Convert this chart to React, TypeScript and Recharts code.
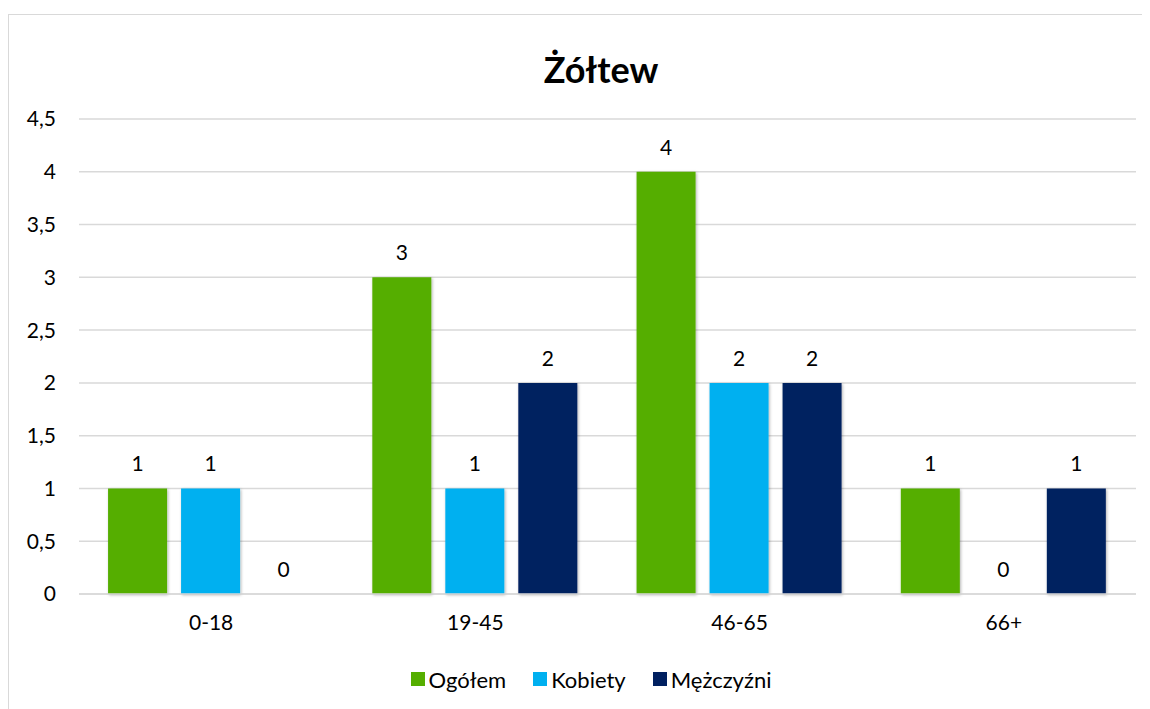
import React from 'react';
import { BarChart, Bar, XAxis, YAxis, CartesianGrid, Legend, LabelList } from 'recharts';

const categories = ['0-18', '19-45', '46-65', '66+'];
const ogolem = [1, 3, 4, 1];
const kobiety = [1, 1, 2, 0];
const mezczyzni = [0, 2, 2, 1];
const yTicks = [0, 0.5, 1, 1.5, 2, 2.5, 3, 3.5, 4, 4.5];
const seriesNames = ['Ogółem', 'Kobiety', 'Mężczyźni'];
const seriesColors = ['#55ae00', '#00b0f0', '#002060'];

const data = categories.map((c, i) => ({
  name: c,
  [seriesNames[0]]: ogolem[i],
  [seriesNames[1]]: kobiety[i],
  [seriesNames[2]]: mezczyzni[i],
}));

const FONT = 'Lato, "Open Sans", sans-serif';
const fmt = (v: number) => String(v).replace('.', ',');

const LegendContent = () => (
  <div style={{ display: 'flex', justifyContent: 'center', alignItems: 'center', gap: 27, fontFamily: FONT, fontSize: 22, color: '#000', paddingLeft: 24, height: 26 }}>
    {seriesNames.map((n, i) => (
      <div key={n} style={{ display: 'flex', alignItems: 'center' }}>
        <span style={{ display: 'inline-block', width: 14, height: 14, background: seriesColors[i], marginRight: 4 }} />
        <span>{n}</span>
      </div>
    ))}
  </div>
);

const ValueLabel = (props: any) => {
  const { x, y, width, value } = props;
  if (value === undefined || value === null) return null;
  return (
    <text x={Number(x) + Number(width) / 2} y={Number(y) - 17} textAnchor="middle" fontFamily={FONT} fontSize={21} fill="#000">
      {fmt(Number(value))}
    </text>
  );
};

export default function App() {
  return (
    <div style={{ position: 'relative', marginTop: 6, width: 1142, height: 695, borderTop: '1px solid #d9d9d9', borderLeft: '1px solid #d9d9d9', boxSizing: 'border-box' }}>
      <div style={{ position: 'absolute', left: 592, top: 54, transform: 'translate(-50%, -50%)', fontFamily: FONT, fontWeight: 700, fontSize: 36, color: '#000', whiteSpace: 'nowrap' }}>
        Żółtew
      </div>
      <div style={{ position: 'absolute', left: -1, top: -1 }}>
        <BarChart
          width={1142}
          height={695}
          data={data}
          margin={{ top: 105, right: 14, left: 0, bottom: 59 }}
          barCategoryGap="11%"
          barGap={14}
        >
          <defs>
            <filter id="barShadow" x="-20%" y="-20%" width="140%" height="140%">
              <feDropShadow dx="1" dy="1" stdDeviation="1.5" floodColor="#000" floodOpacity="0.3" />
            </filter>
          </defs>
          <CartesianGrid vertical={false} stroke="#d9d9d9" strokeWidth={1.5} />
          <XAxis
            dataKey="name"
            axisLine={{ stroke: '#d9d9d9', strokeWidth: 1.5 }}
            tickLine={false}
            tickSize={0}
            tickMargin={21}
            height={30}
            tick={{ fontFamily: FONT, fontSize: 21, fill: '#000' }}
          />
          <YAxis
            domain={[0, 4.5]}
            ticks={yTicks}
            interval={0}
            axisLine={false}
            tickLine={false}
            tickSize={0}
            tickMargin={23}
            width={71}
            tickFormatter={fmt}
            tick={{ fontFamily: FONT, fontSize: 21, fill: '#000' }}
          />
          <Legend verticalAlign="bottom" content={<LegendContent />} wrapperStyle={{ top: 652, left: 0, width: 1142 }} />
          {seriesNames.map((n, i) => (
            <Bar key={n} dataKey={n} fill={seriesColors[i]} isAnimationActive={false} filter="url(#barShadow)" minPointSize={0.01}>
              <LabelList dataKey={n} content={<ValueLabel />} />
            </Bar>
          ))}
        </BarChart>
      </div>
    </div>
  );
}
